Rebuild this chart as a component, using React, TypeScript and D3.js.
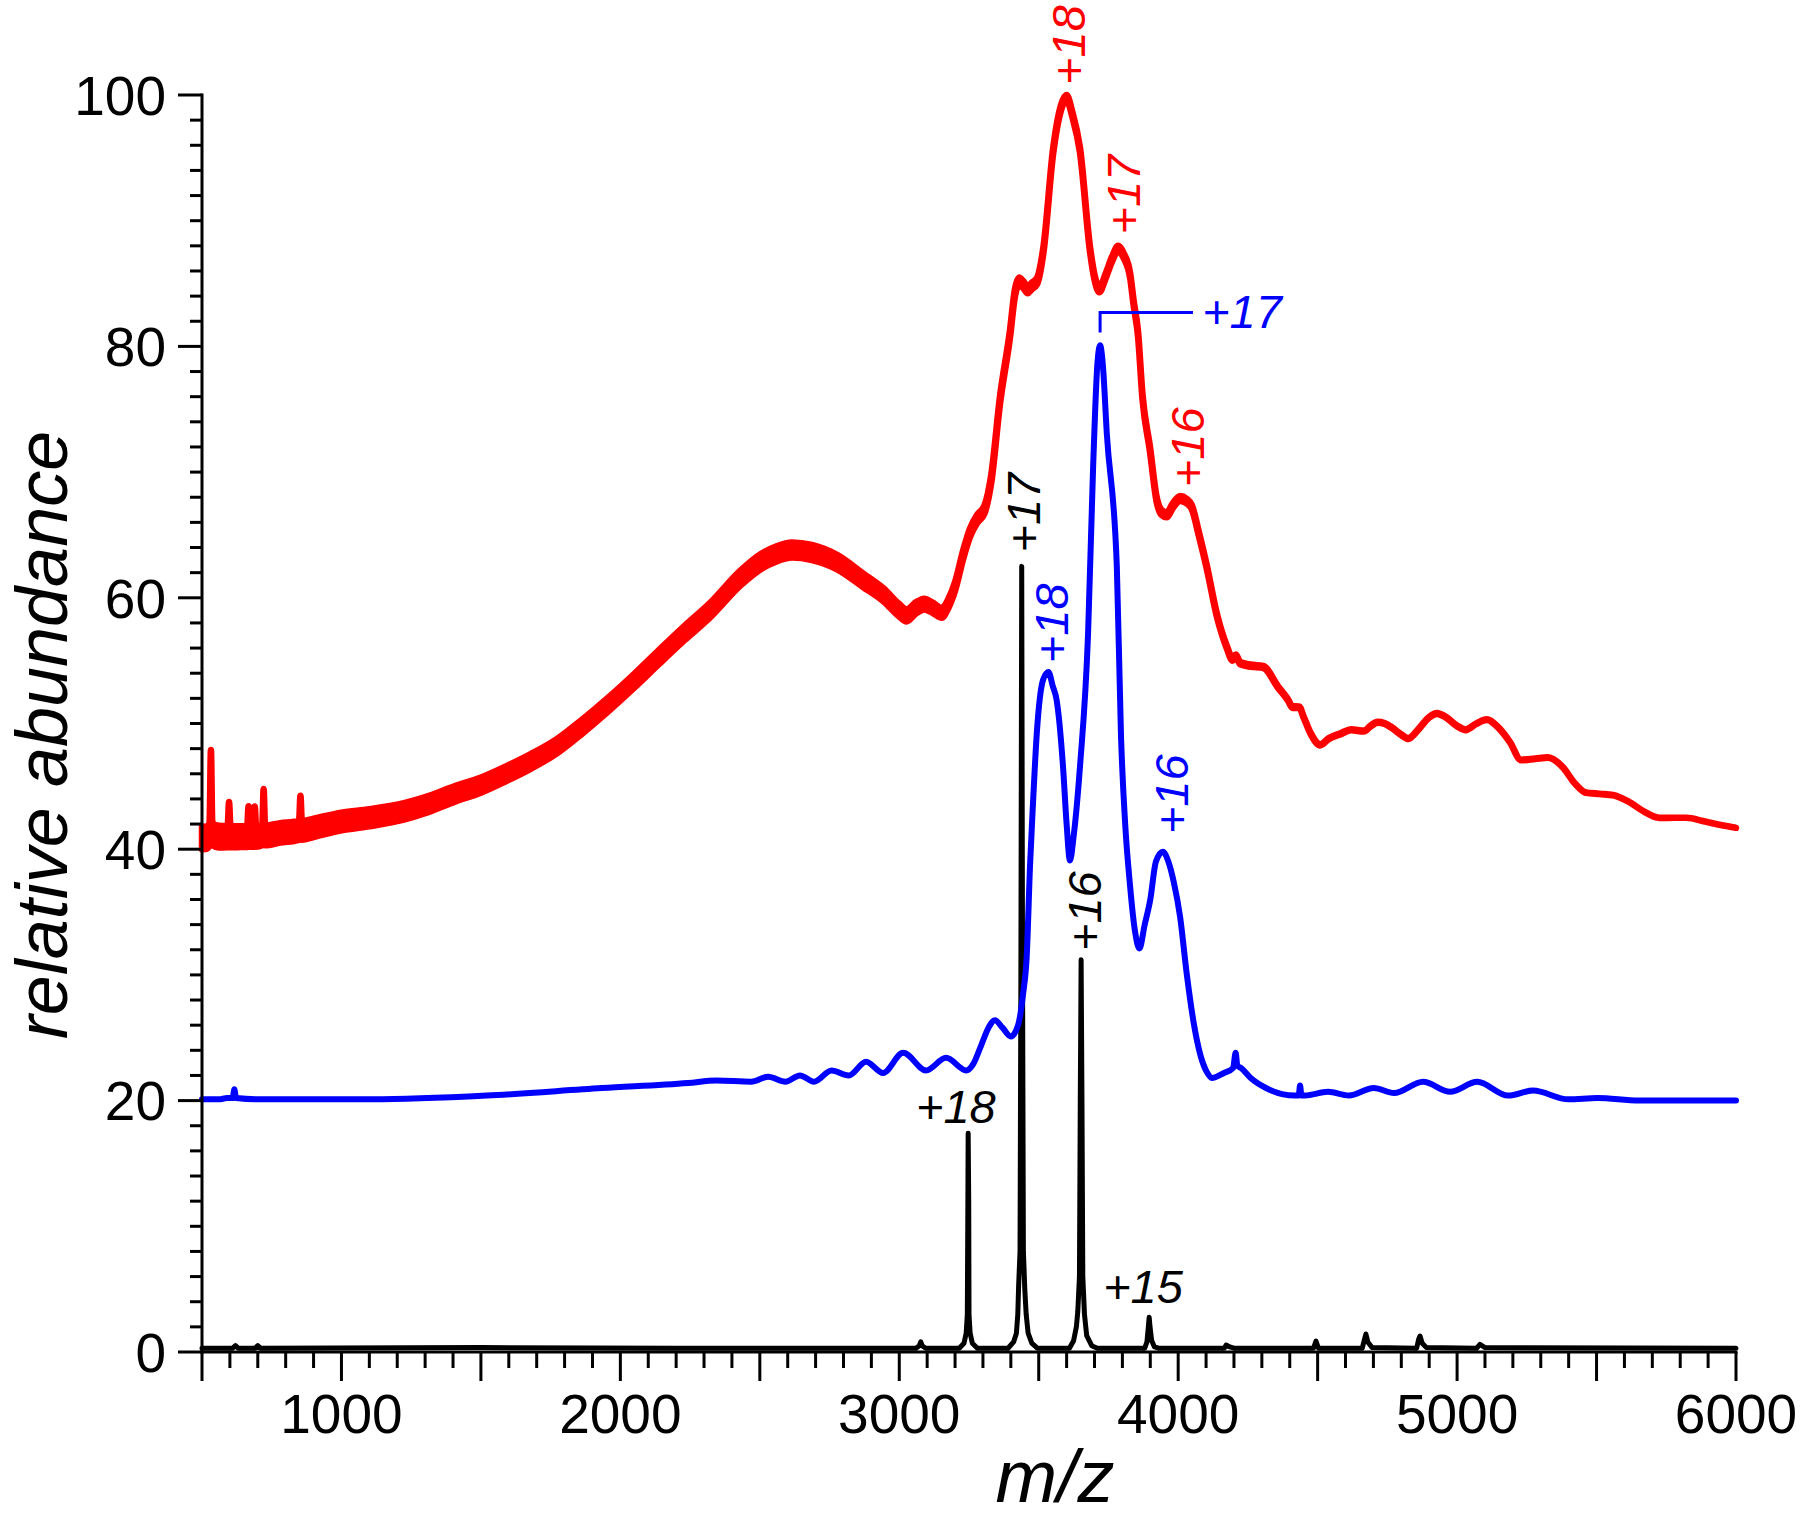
import React, { useEffect } from "react";
import * as d3 from "d3";

// ---------- data ----------
const xDomain: [number, number] = [500, 6000];
const yDomain: [number, number] = [0, 100];

const xTicksMinor = d3.range(500, 6001, 100);
const xTicksMajor = d3.range(500, 6001, 500);
const xTickLabels = [1000, 2000, 3000, 4000, 5000, 6000];
const yTicksMinor = d3.range(0, 101, 2);
const yTickLabels = [0, 20, 40, 60, 80, 100];

// red spectrum: [m/z, relative abundance]
const redSeries: [number, number][] = [
  [500, 40.9], [515, 40.9], [527, 41.2], [532, 47.0], [537, 41.2], [560, 41.0], [592, 41.0], [597, 42.9], [602, 41.0],
  [640, 41.0], [662, 41.0], [667, 42.6], [672, 41.0], [684, 41.0], [689, 42.6], [694, 41.0], [716, 41.1], [721, 44.0],
  [726, 41.1], [780, 41.3], [848, 41.5], [853, 43.5], [858, 41.5], [900, 41.7], [1000, 42.2], [1100, 42.5], [1224, 43.0],
  [1300, 43.5], [1407, 44.4], [1500, 45.1], [1590, 46.0], [1680, 47.0], [1773, 48.2], [1860, 49.7], [1956, 51.5],
  [2050, 53.4], [2139, 55.3], [2230, 57.2], [2321, 59.0], [2432, 61.6], [2505, 62.9], [2560, 63.5], [2615, 63.8],
  [2687, 63.6], [2780, 62.8], [2870, 61.4], [2945, 60.2], [3000, 59.0], [3026, 58.6], [3060, 59.2], [3090, 59.5],
  [3120, 59.2], [3153, 58.8], [3175, 59.5], [3200, 60.9], [3230, 63.5], [3254, 65.2], [3280, 66.3], [3305, 67.0],
  [3330, 69.5], [3361, 75.7], [3397, 81.0], [3415, 84.3], [3430, 85.2], [3445, 84.9], [3460, 84.5], [3475, 84.8],
  [3494, 85.2], [3517, 87.7], [3552, 95.6], [3580, 99.0], [3600, 99.8], [3620, 98.5], [3648, 95.6], [3684, 87.7],
  [3700, 85.5], [3717, 84.5], [3740, 85.6], [3762, 86.9], [3785, 87.8], [3805, 87.2], [3828, 85.6], [3840, 83.5],
  [3856, 81.0], [3872, 76.0], [3899, 71.8], [3923, 67.8], [3940, 66.8], [3959, 66.6], [3980, 67.3], [4007, 67.9],
  [4030, 67.7], [4049, 67.2], [4075, 65.0], [4102, 62.5], [4140, 58.5], [4174, 56.1], [4195, 55.1], [4207, 55.4],
  [4222, 54.8], [4260, 54.6], [4305, 54.5], [4358, 52.9], [4393, 51.9], [4410, 51.3], [4434, 51.3], [4450, 50.5],
  [4475, 49.2], [4509, 48.3], [4540, 48.8], [4584, 49.2], [4620, 49.5], [4666, 49.4], [4690, 49.8], [4715, 50.1],
  [4740, 50.0], [4764, 49.7], [4800, 49.1], [4825, 48.8], [4860, 49.5], [4900, 50.5], [4928, 50.8], [4960, 50.5],
  [5000, 49.8], [5031, 49.5], [5070, 50.0], [5107, 50.3], [5147, 49.7], [5190, 48.5], [5229, 47.1], [5280, 47.2],
  [5326, 47.3], [5380, 46.5], [5420, 45.3], [5462, 44.5], [5510, 44.4], [5559, 44.3], [5614, 43.8], [5670, 43.0],
  [5724, 42.5], [5780, 42.5], [5821, 42.5], [5889, 42.2], [5950, 41.9], [6000, 41.7],
];

// half-width of the noise band on the red trace: [m/z, abundance units]
const redNoise: [number, number][] = [
  [500, 0.9], [700, 0.8], [1000, 0.7], [1500, 0.6], [2000, 0.55], [2500, 0.6], [2700, 0.6], [3000, 0.5],
  [3200, 0.35], [3400, 0.3], [3600, 0.2], [4000, 0.2], [4200, 0.1], [4500, 0.05], [6000, 0],
];

// blue spectrum
const blueSeries: [number, number][] = [
  [500, 20.1], [560, 20.1], [590, 20.2], [610, 20.2], [616, 20.9], [622, 20.2], [700, 20.1], [1110, 20.1],
  [1522, 20.4], [1934, 21.0], [2243, 21.4], [2345, 21.6], [2469, 21.5], [2530, 21.9], [2592, 21.5], [2644, 22.0],
  [2694, 21.5], [2757, 22.4], [2819, 22.0], [2881, 23.1], [2942, 22.2], [3014, 23.8], [3096, 22.4], [3168, 23.4],
  [3240, 22.4], [3265, 22.9], [3292, 24.3], [3320, 25.8], [3343, 26.4], [3370, 25.8], [3400, 25.1], [3426, 26.0],
  [3444, 28.5], [3457, 31.5], [3469, 38.8], [3480, 43.9], [3493, 49.2], [3516, 53.5], [3535, 54.1], [3550, 53.0],
  [3564, 51.9], [3587, 46.6], [3600, 42.0], [3612, 39.1], [3625, 41.0], [3648, 46.6], [3677, 57.2], [3695, 70.4],
  [3710, 78.5], [3720, 80.1], [3730, 78.5], [3744, 73.1], [3780, 62.5], [3795, 49.0], [3810, 42.0], [3827, 37.2],
  [3845, 33.5], [3861, 32.1], [3880, 34.0], [3900, 36.0], [3920, 39.0], [3945, 39.8], [3965, 39.0], [3985, 37.3],
  [4007, 34.6], [4030, 30.2], [4054, 26.4], [4080, 23.6], [4102, 22.3], [4121, 21.8], [4164, 22.2], [4197, 22.6],
  [4206, 23.8], [4212, 22.8], [4225, 22.6], [4260, 21.8], [4315, 21.0], [4419, 20.4], [4432, 20.4], [4437, 21.2],
  [4442, 20.4], [4455, 20.4], [4537, 20.7], [4612, 20.4], [4701, 21.0], [4774, 20.6], [4878, 21.5], [4975, 20.7],
  [5072, 21.5], [5183, 20.4], [5272, 20.8], [5399, 20.1], [5503, 20.2], [5652, 20.0], [6000, 20.0],
];

// black spectrum
const blackSeries: [number, number][] = [
  [500, 0.3], [610, 0.3], [620, 0.5], [630, 0.3], [690, 0.3], [700, 0.5], [710, 0.3], [1500, 0.35], [2200, 0.3],
  [3060, 0.3], [3072, 0.5], [3077, 0.8], [3082, 0.5], [3095, 0.3],
  [3215, 0.3], [3232, 0.7], [3240, 1.5], [3244, 3], [3246, 12], [3247, 17.4], [3249, 12], [3250, 3], [3254, 1.5],
  [3262, 0.7], [3280, 0.3],
  [3390, 0.3], [3410, 0.8], [3420, 1.5], [3425, 3], [3428, 5.3], [3433, 8], [3436, 30], [3439, 62.5], [3442, 30],
  [3445, 8], [3450, 5], [3455, 3], [3462, 1.5], [3475, 0.7], [3495, 0.3],
  [3610, 0.3], [3625, 0.9], [3635, 2], [3640, 3.2], [3646, 6], [3649, 20], [3652, 31.2], [3655, 20], [3658, 6],
  [3664, 3], [3672, 1.3], [3690, 0.5], [3710, 0.3],
  [3880, 0.3], [3888, 0.8], [3893, 2], [3896, 2.76], [3899, 2], [3905, 0.9], [3915, 0.4], [3930, 0.3],
  [4165, 0.3], [4172, 0.55], [4185, 0.4], [4200, 0.3], [4485, 0.3], [4494, 0.87], [4503, 0.3],
  [4660, 0.3], [4668, 1.0], [4673, 1.43], [4680, 0.8], [4695, 0.35], [4855, 0.3], [4862, 1.0], [4867, 1.27],
  [4875, 0.7], [4890, 0.35], [5070, 0.3], [5082, 0.6], [5100, 0.35], [6000, 0.3],
];

// charge-state labels: text, colour, m/z of label centre / start, abundance of label foot / baseline
const verticalLabels = [
  { text: "+18", color: "#ff0000", mz: 3606, v: 100.8 },
  { text: "+17", color: "#ff0000", mz: 3802, v: 88.9 },
  { text: "+16", color: "#ff0000", mz: 4033, v: 68.8 },
  { text: "+17", color: "#000000", mz: 3444, v: 63.6 },
  { text: "+18", color: "#0000ff", mz: 3543, v: 54.8 },
  { text: "+16", color: "#0000ff", mz: 3974, v: 41.2 },
  { text: "+16", color: "#000000", mz: 3662, v: 31.9 },
];
const horizontalLabels = [
  { text: "+18", color: "#000000", mz: 3060, v: 18.2 },
  { text: "+15", color: "#000000", mz: 3731, v: 3.9 },
  { text: "+17", color: "#0000ff", mz: 4086, v: 81.5 },
];
// bracket for blue +17: [m/z, abundance]
const blueBracket: [number, number][] = [[3720, 81.1], [3720, 82.7], [4053, 82.7]];

// ---------- layout ----------
const W = 1800;
const H = 1519;
const FONT = "'Liberation Sans', Arial, Helvetica, sans-serif";

export default function App() {
  useEffect(() => {
    document.body.style.margin = "0";
  }, []);

  const x = d3.scaleLinear().domain(xDomain).range([202, 1736]);
  const y = d3.scaleLinear().domain(yDomain).range([1352, 95]);

  const noiseAt = d3.scaleLinear().domain(redNoise.map((d) => d[0])).range(redNoise.map((d) => d[1]));

  const redArea = d3
    .area<[number, number]>()
    .x((d) => x(d[0]))
    .y0((d) => y(d[1] - noiseAt(d[0])))
    .y1((d) => y(d[1] + noiseAt(d[0])))
    .curve(d3.curveMonotoneX);
  const smoothLine = d3
    .line<[number, number]>()
    .x((d) => x(d[0]))
    .y((d) => y(d[1]))
    .curve(d3.curveMonotoneX);
  const straightLine = d3
    .line<[number, number]>()
    .x((d) => x(d[0]))
    .y((d) => y(d[1]));

  const y0 = y(0);
  const x0 = x(xDomain[0]);

  return (
    <svg width={W} height={H} style={{ position: "absolute", left: 0, top: 0, background: "#fff" }} fontFamily={FONT}>
      <rect width={W} height={H} fill="#fff" />

      {/* black trace */}
      <path d={straightLine(blackSeries) || ""} fill="none" stroke="#000" strokeWidth={5} strokeLinejoin="round" strokeLinecap="round" />

      {/* blue trace */}
      <path d={smoothLine(blueSeries) || ""} fill="none" stroke="#0000ff" strokeWidth={6} strokeLinejoin="round" strokeLinecap="round" />

      {/* red trace (with noise band) */}
      <path d={redArea(redSeries) || ""} fill="#ff0000" stroke="#ff0000" strokeWidth={6.5} strokeLinejoin="round" strokeLinecap="round" />

      {/* axes */}
      <g stroke="#000" strokeWidth={3} fill="none">
        <line x1={x0} x2={x0} y1={y(100) - 1.5} y2={y0 + 1.5} />
        <line x1={x0 - 1.5} x2={x(xDomain[1]) + 1.5} y1={y0} y2={y0} />
        {yTicksMinor.map((t) => (
          <line key={"yt" + t} x1={x0} x2={x0 - (t % 20 === 0 ? 24 : 12)} y1={y(t)} y2={y(t)} />
        ))}
        {xTicksMinor.map((t) => (
          <line key={"xt" + t} x1={x(t)} x2={x(t)} y1={y0} y2={y0 + (xTicksMajor.includes(t) ? 29 : 16)} />
        ))}
      </g>

      {/* tick labels */}
      <g fontSize={55} fill="#000">
        {yTickLabels.map((t) => (
          <text key={"yl" + t} x={166} y={y(t)} dy="0.36em" textAnchor="end">
            {t}
          </text>
        ))}
        {xTickLabels.map((t) => (
          <text key={"xl" + t} x={x(t)} y={1433} textAnchor="middle">
            {t}
          </text>
        ))}
      </g>

      {/* axis titles */}
      <text x={1055} y={1502} fontSize={74} fontStyle="italic" textAnchor="middle" fill="#000">
        m/z
      </text>
      <text transform="translate(67,735) rotate(-90)" fontSize={72} fontStyle="italic" textAnchor="middle" fill="#000">
        relative abundance
      </text>

      {/* charge-state annotations */}
      <g fontSize={47} fontStyle="italic">
        {verticalLabels.map((l, i) => (
          <text key={"vl" + i} transform={`translate(${x(l.mz)},${y(l.v)}) rotate(-90)`} dy="0.36em" fill={l.color} textAnchor="start">
            {l.text}
          </text>
        ))}
        {horizontalLabels.map((l, i) => (
          <text key={"hl" + i} x={x(l.mz)} y={y(l.v)} fill={l.color} textAnchor="start">
            {l.text}
          </text>
        ))}
      </g>
      <path d={straightLine(blueBracket) || ""} fill="none" stroke="#0000ff" strokeWidth={3} />
    </svg>
  );
}
